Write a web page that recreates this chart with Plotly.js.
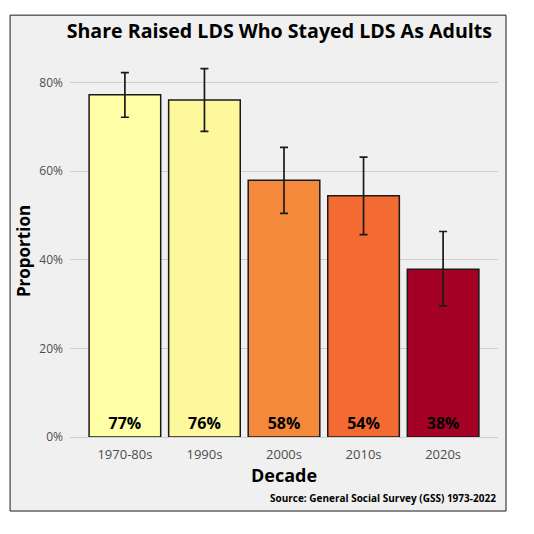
<!DOCTYPE html>
<html>
<head>
<meta charset="utf-8">
<script src="https://cdn.plot.ly/plotly-3.0.1.min.js"></script>
<style>
  html, body { margin: 0; padding: 0; background: #ffffff; }
  #chart { width: 534px; height: 534px; }
</style>
</head>
<body>
<div id="chart"></div>
<script>
// decades and share who stayed LDS (with 95% interval ends)
var decades = ['1970-80s', '1990s', '2000s', '2010s', '2020s'];
var share = [0.773, 0.761, 0.580, 0.545, 0.379];
var upper = [0.823, 0.832, 0.654, 0.632, 0.464];
var lower = [0.722, 0.690, 0.505, 0.457, 0.296];
var labels = ['77%', '76%', '58%', '54%', '38%'];
var barColors = ['#FFFFA8', '#FDF89C', '#F5893B', '#F36B33', '#A50026'];
var yTicks = [0, 0.2, 0.4, 0.6, 0.8];
var yTickText = ['0%', '20%', '40%', '60%', '80%'];

var fontFam = '"Open Sans", "Noto Sans", sans-serif';

var errUp = share.map(function (v, i) { return upper[i] - v; });
var errDown = share.map(function (v, i) { return v - lower[i]; });

var trace = {
  type: 'bar',
  x: decades,
  y: share,
  marker: { color: barColors, line: { color: '#1a1a1a', width: 1.5 } },
  text: labels,
  textposition: 'inside',
  insidetextanchor: 'start',
  textangle: 0,
  insidetextfont: { family: fontFam, size: 16, color: '#000000', weight: 'bold' },
  error_y: {
    type: 'data', symmetric: false,
    array: errUp, arrayminus: errDown,
    color: '#1a1a1a', thickness: 1.7, width: 4
  },
  hoverinfo: 'none'
};

var layout = {
  width: 534,
  height: 534,
  margin: { l: 70, r: 36, t: 65, b: 97 },
  paper_bgcolor: '#ffffff',
  plot_bgcolor: 'rgba(0,0,0,0)',
  showlegend: false,
  bargap: 0.1,
  font: { family: fontFam, color: '#4d4d4d' },
  title: {
    text: '<b>Share Raised LDS Who Stayed LDS As Adults</b>',
    font: { family: fontFam, size: 19.6, color: '#000000' },
    x: 0.986, xanchor: 'right', xref: 'paper',
    y: 0.942, yanchor: 'middle'
  },
  xaxis: {
    range: [-0.69, 4.69],
    showgrid: false, zeroline: false, showline: false,
    ticks: '', ticklabelstandoff: 8,
    tickfont: { size: 13, color: '#4d4d4d' },
    title: { text: '<b>Decade</b>', font: { size: 18, color: '#000000' }, standoff: 6 }
  },
  yaxis: {
    range: [0, 0.84],
    tickvals: yTicks, ticktext: yTickText,
    showgrid: true, gridcolor: '#cfcfcf', gridwidth: 1,
    zeroline: true, zerolinecolor: '#cfcfcf', zerolinewidth: 1,
    showline: false, ticks: '', ticklabelstandoff: 6,
    tickfont: { size: 12, color: '#4d4d4d' },
    title: { text: '<b>Proportion</b>', font: { size: 17, color: '#000000' }, standoff: 4 }
  },
  shapes: [{
    type: 'rect', xref: 'paper', yref: 'paper', layer: 'below',
    x0: -0.140, x1: 1.0187, y0: -0.199, y1: 1.134,
    fillcolor: '#f0f0f0', line: { color: '#1a1a1a', width: 1 }
  }],
  annotations: [{
    text: '<b>Source: General Social Survey (GSS) 1973-2022</b>',
    xref: 'paper', yref: 'paper', x: 1, y: -0.164,
    xanchor: 'right', yanchor: 'middle', showarrow: false,
    font: { family: fontFam, size: 10, color: '#000000' }
  }]
};

Plotly.newPlot('chart', [trace], layout, { displayModeBar: false, staticPlot: true });
</script>
</body>
</html>
